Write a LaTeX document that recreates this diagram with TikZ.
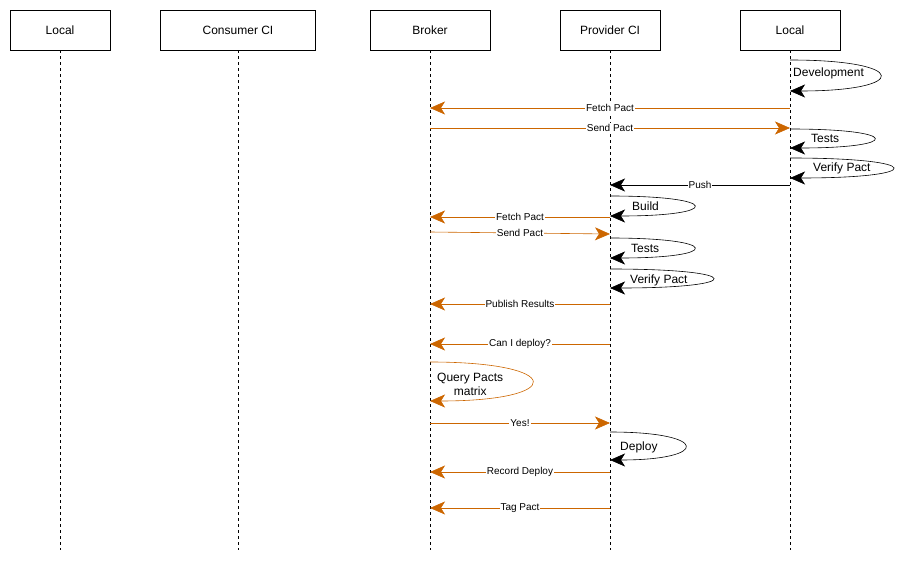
\documentclass[tikz,border=0pt]{standalone}
\usepackage{fontspec}
\setmainfont{Liberation Sans}
\usetikzlibrary{arrows.meta}

\definecolor{pactorange}{HTML}{CC6600}

\tikzset{
  head/.style={draw,minimum height=40pt,font=\fontsize{12}{14}\selectfont,inner sep=0pt},
  life/.style={dashed,thin},
  msg/.style={-{Stealth[length=15pt,width=13pt,inset=4pt]},semithick},
  back/.style={msg,pactorange},
  fwd/.style={msg,black},
  lbl/.style={fill=white,text=black,inner sep=1pt,font=\fontsize{10}{12}\selectfont},
  loopl/.style={anchor=west,text=black,font=\fontsize{12}{14}\selectfont,align=center,inner sep=1pt}
}

% message from lifeline #2 to lifeline #3 at height #1
\newcommand{\pactmsg}[5]{%
  \draw[#5] (#2 |- 0,#1) -- node[lbl] {#4} (#3 |- 0,#1);}

\begin{document}
\begin{tikzpicture}[x=1pt,y=-1pt]
  \useasboundingbox (0,0) rectangle (912,561);

  \node[head,minimum width=100pt] (local)    at (60,30)  {Local};
  \node[head,minimum width=155pt] (consumer) at (238,30) {Consumer CI};
  \node[head,minimum width=120pt] (broker)   at (430,30) {Broker};
  \node[head,minimum width=100pt] (provider) at (610,30) {Provider CI};
  \node[head,minimum width=100pt] (dev)      at (790,30) {Local};

  \foreach \n in {local,consumer,broker,provider,dev}
    \draw[life] (\n.south) -- (\n |- 0,550);

  % local development
  \draw[fwd] (dev |- 0,60) .. controls (910,60) and (910,91) .. (dev |- 0,91);
  \node[loopl] (devl) at (792,73) {Development};
  \pactmsg{108}{dev}{broker}{Fetch Pact}{back}
  \pactmsg{128}{broker}{dev}{Send Pact}{back}
  \draw[fwd] (dev |- 0,129) .. controls (902,129) and (902,148) .. (dev |- 0,148);
  \node[loopl] (testl) at (810,138) {Tests};
  \draw[fwd] (dev |- 0,158) .. controls (927,158) and (927,178) .. (dev |- 0,178);
  \node[loopl] (verl) at (812,168) {Verify Pact};
  \pactmsg{185}{dev}{provider}{Push}{fwd}

  % provider CI
  \draw[fwd] (provider |- 0,196) .. controls (722,196) and (722,216) .. (provider |- 0,216);
  \node[loopl] (buildl) at (631,206) {Build};
  \pactmsg{217}{provider}{broker}{Fetch Pact}{back}
  \draw[back] (broker |- 0,232) -- node[lbl] {Send Pact} (provider |- 0,234);
  \draw[fwd] (provider |- 0,238) .. controls (722,238) and (722,258) .. (provider |- 0,258);
  \node[loopl] (ptestl) at (630,248) {Tests};
  \draw[fwd] (provider |- 0,269) .. controls (747,269) and (747,288) .. (provider |- 0,288);
  \node[loopl] (pverl) at (629,280) {Verify Pact};
  \pactmsg{304}{provider}{broker}{Publish Results}{back}
  \pactmsg{344}{provider}{broker}{Can I deploy?}{back}

  % broker check
  \draw[back] (broker |- 0,362) .. controls (566,362) and (566,401) .. (broker |- 0,401);
  \node[loopl] (queryl) at (436,384) {Query Pacts\\matrix};
  \pactmsg{423}{broker}{provider}{Yes!}{back}

  % deploy
  \draw[fwd] (provider |- 0,432) .. controls (710,432) and (710,460) .. (provider |- 0,460);
  \node[loopl] (depl) at (619,447) {Deploy};
  \pactmsg{472}{provider}{broker}{Record Deploy}{back}
  \pactmsg{508}{provider}{broker}{Tag Pact}{back}
\end{tikzpicture}
\end{document}
